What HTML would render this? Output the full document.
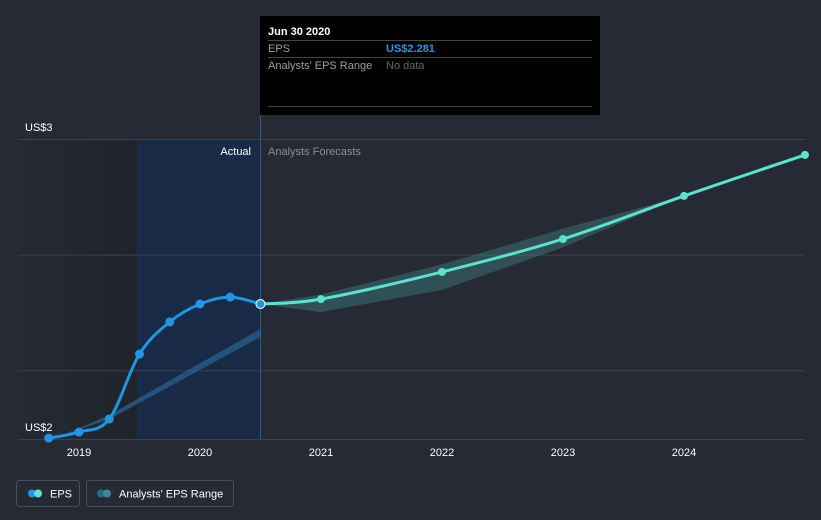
<!DOCTYPE html>
<html><head><meta charset="utf-8"><style>
body{margin:0;background:#252a35;font-family:"Liberation Sans",sans-serif;}
svg{display:block}
</style></head><body>
<svg width="821" height="520">
<rect width="821" height="520" fill="#252a35"/>
<defs><linearGradient id="gd" x1="0" x2="1"><stop offset="0" stop-color="#252a35"/><stop offset="1" stop-color="#1f232a"/></linearGradient></defs>
<rect x="18" y="139" width="119" height="300" fill="url(#gd)"/>
<rect x="137" y="139" width="123" height="300" fill="#182a45"/>
<g id="grid"></g>
<line x1="260.5" y1="115" x2="260.5" y2="439" stroke="#2a5a9a" stroke-width="1"/>
<text x="251" y="155" fill="#fff" font-size="11" text-anchor="end">Actual</text>
<text x="268" y="155" fill="#8a8f98" font-size="11">Analysts Forecasts</text>
<text x="25" y="131" fill="#fff" font-size="11">US$3</text>
<text x="25" y="431" fill="#fff" font-size="11">US$2</text>
<g id="bands"></g><g id="lines"></g><g id="xt"></g>
<g>
<rect x="260" y="16" width="340" height="99" fill="#000"/>
<text x="268" y="35" fill="#fff" font-size="11" font-weight="bold">Jun 30 2020</text>
<line x1="268" y1="40.5" x2="592" y2="40.5" stroke="#444"/>
<text x="268" y="52" fill="#9a9ea6" font-size="11">EPS</text>
<text x="386" y="52" fill="#2394df" font-size="11" font-weight="bold">US$2.281</text>
<line x1="268" y1="57.5" x2="592" y2="57.5" stroke="#444"/>
<text x="268" y="69" fill="#9a9ea6" font-size="11">Analysts' EPS Range</text>
<text x="386" y="69" fill="#666" font-size="11">No data</text>
<line x1="268" y1="106.5" x2="592" y2="106.5" stroke="#444"/>
</g>
<g>
<rect x="16.5" y="480.5" width="63" height="26" rx="3" fill="none" stroke="#4a4f5a"/>
<circle cx="32" cy="493.5" r="4" fill="#2394df"/><circle cx="38" cy="493.5" r="4" fill="#5fe0d0"/>
<text x="50" y="497.5" fill="#fff" font-size="11">EPS</text></g>
<g>
<rect x="86.5" y="480.5" width="147" height="26" rx="3" fill="none" stroke="#4a4f5a"/>
<circle cx="101" cy="493.5" r="4" fill="#2a6a8a"/><circle cx="107" cy="493.5" r="4" fill="#3a8a8a"/>
<text x="119" y="497.5" fill="#fff" font-size="11">Analysts' EPS Range</text></g>
</svg>
<script>
const years=[2019,2020,2021,2022,2023,2024];
const gridVals=[3.0,2.6,2.2];
const actT=[2018.75,2019.0,2019.25,2019.5,2019.75,2020.0,2020.25,2020.5];
const actV=[1.965,1.986,2.031,2.256,2.367,2.429,2.453,2.429];
const fcT=[2020.5,2021,2022,2023,2024,2025];
const fcV=[2.429,2.446,2.540,2.654,2.803,2.945];
const fcBandT=[2020.5,2021,2022,2023,2024];
const fcLo=[2.429,2.401,2.478,2.625,2.803];
const fcHi=[2.429,2.462,2.566,2.690,2.803];
const pastBandT=[2018.9,2019.25,2020.5];
const pastLo=[1.980,2.030,2.315];
const pastHi=[1.982,2.045,2.343];
const X=t=>79+(t-2019)*121, Y=v=>428-(v-2)*289;
const NS='http://www.w3.org/2000/svg';
function mk(tag,at,parent){const e=document.createElementNS(NS,tag);for(const k in at)e.setAttribute(k,at[k]);document.getElementById(parent).appendChild(e);return e;}
gridVals.forEach(v=>{const l=mk('line',{x1:18,x2:805,y1:Y(v)+0.5,y2:Y(v)+0.5,stroke:'#3c414c'},'grid');

});
const ax=mk('line',{x1:18,x2:805,y1:439.5,y2:439.5,stroke:'#3c414c'},'grid');


years.forEach(y=>{const t=mk('text',{x:X(y),y:456,fill:'#fff','font-size':11,'text-anchor':'middle'},'xt');t.textContent=y;

});
function band(T,lo,hi,fill,name){let d='M'+T.map((t,i)=>X(t)+','+Y(hi[i])).join('L');for(let i=T.length-1;i>=0;i--)d+='L'+X(T[i])+','+Y(lo[i]);
const p=mk('path',{d:d+'Z',fill:fill},'bands');

}
band(pastBandT,pastLo,pastHi,'rgba(43,100,150,0.7)','past-eps-range');
band(fcBandT,fcLo,fcHi,'rgba(80,170,160,0.3)','forecast-eps-range');
function smooth(T,V){const P=T.map((t,i)=>[X(t),Y(V[i])]);let d='M'+P[0];for(let i=0;i<P.length-1;i++){const p0=P[i-1]||P[i],p1=P[i],p2=P[i+1],p3=P[i+2]||p2;
d+='C'+(p1[0]+(p2[0]-p0[0])/6)+','+(p1[1]+(p2[1]-p0[1])/6)+' '+(p2[0]-(p3[0]-p1[0])/6)+','+(p2[1]-(p3[1]-p1[1])/6)+' '+p2;}return d;}
const la=mk('path',{d:smooth(actT,actV),fill:'none',stroke:'#2394df','stroke-width':3},'lines');


const lf=mk('path',{d:smooth(fcT,fcV),fill:'none',stroke:'#5fe0d0','stroke-width':3},'lines');


actT.forEach((t,i)=>{const last=i===actT.length-1;const c=mk('circle',{cx:X(t),cy:Y(actV[i]),r:4.5,fill:'#2394df',stroke:last?'#fff':'none','stroke-width':1},'lines');

});
fcT.slice(1).forEach((t,i)=>{const c=mk('circle',{cx:X(t),cy:Y(fcV[i+1]),r:4,fill:'#5fe0d0'},'lines');

});
</script>
</body></html>
